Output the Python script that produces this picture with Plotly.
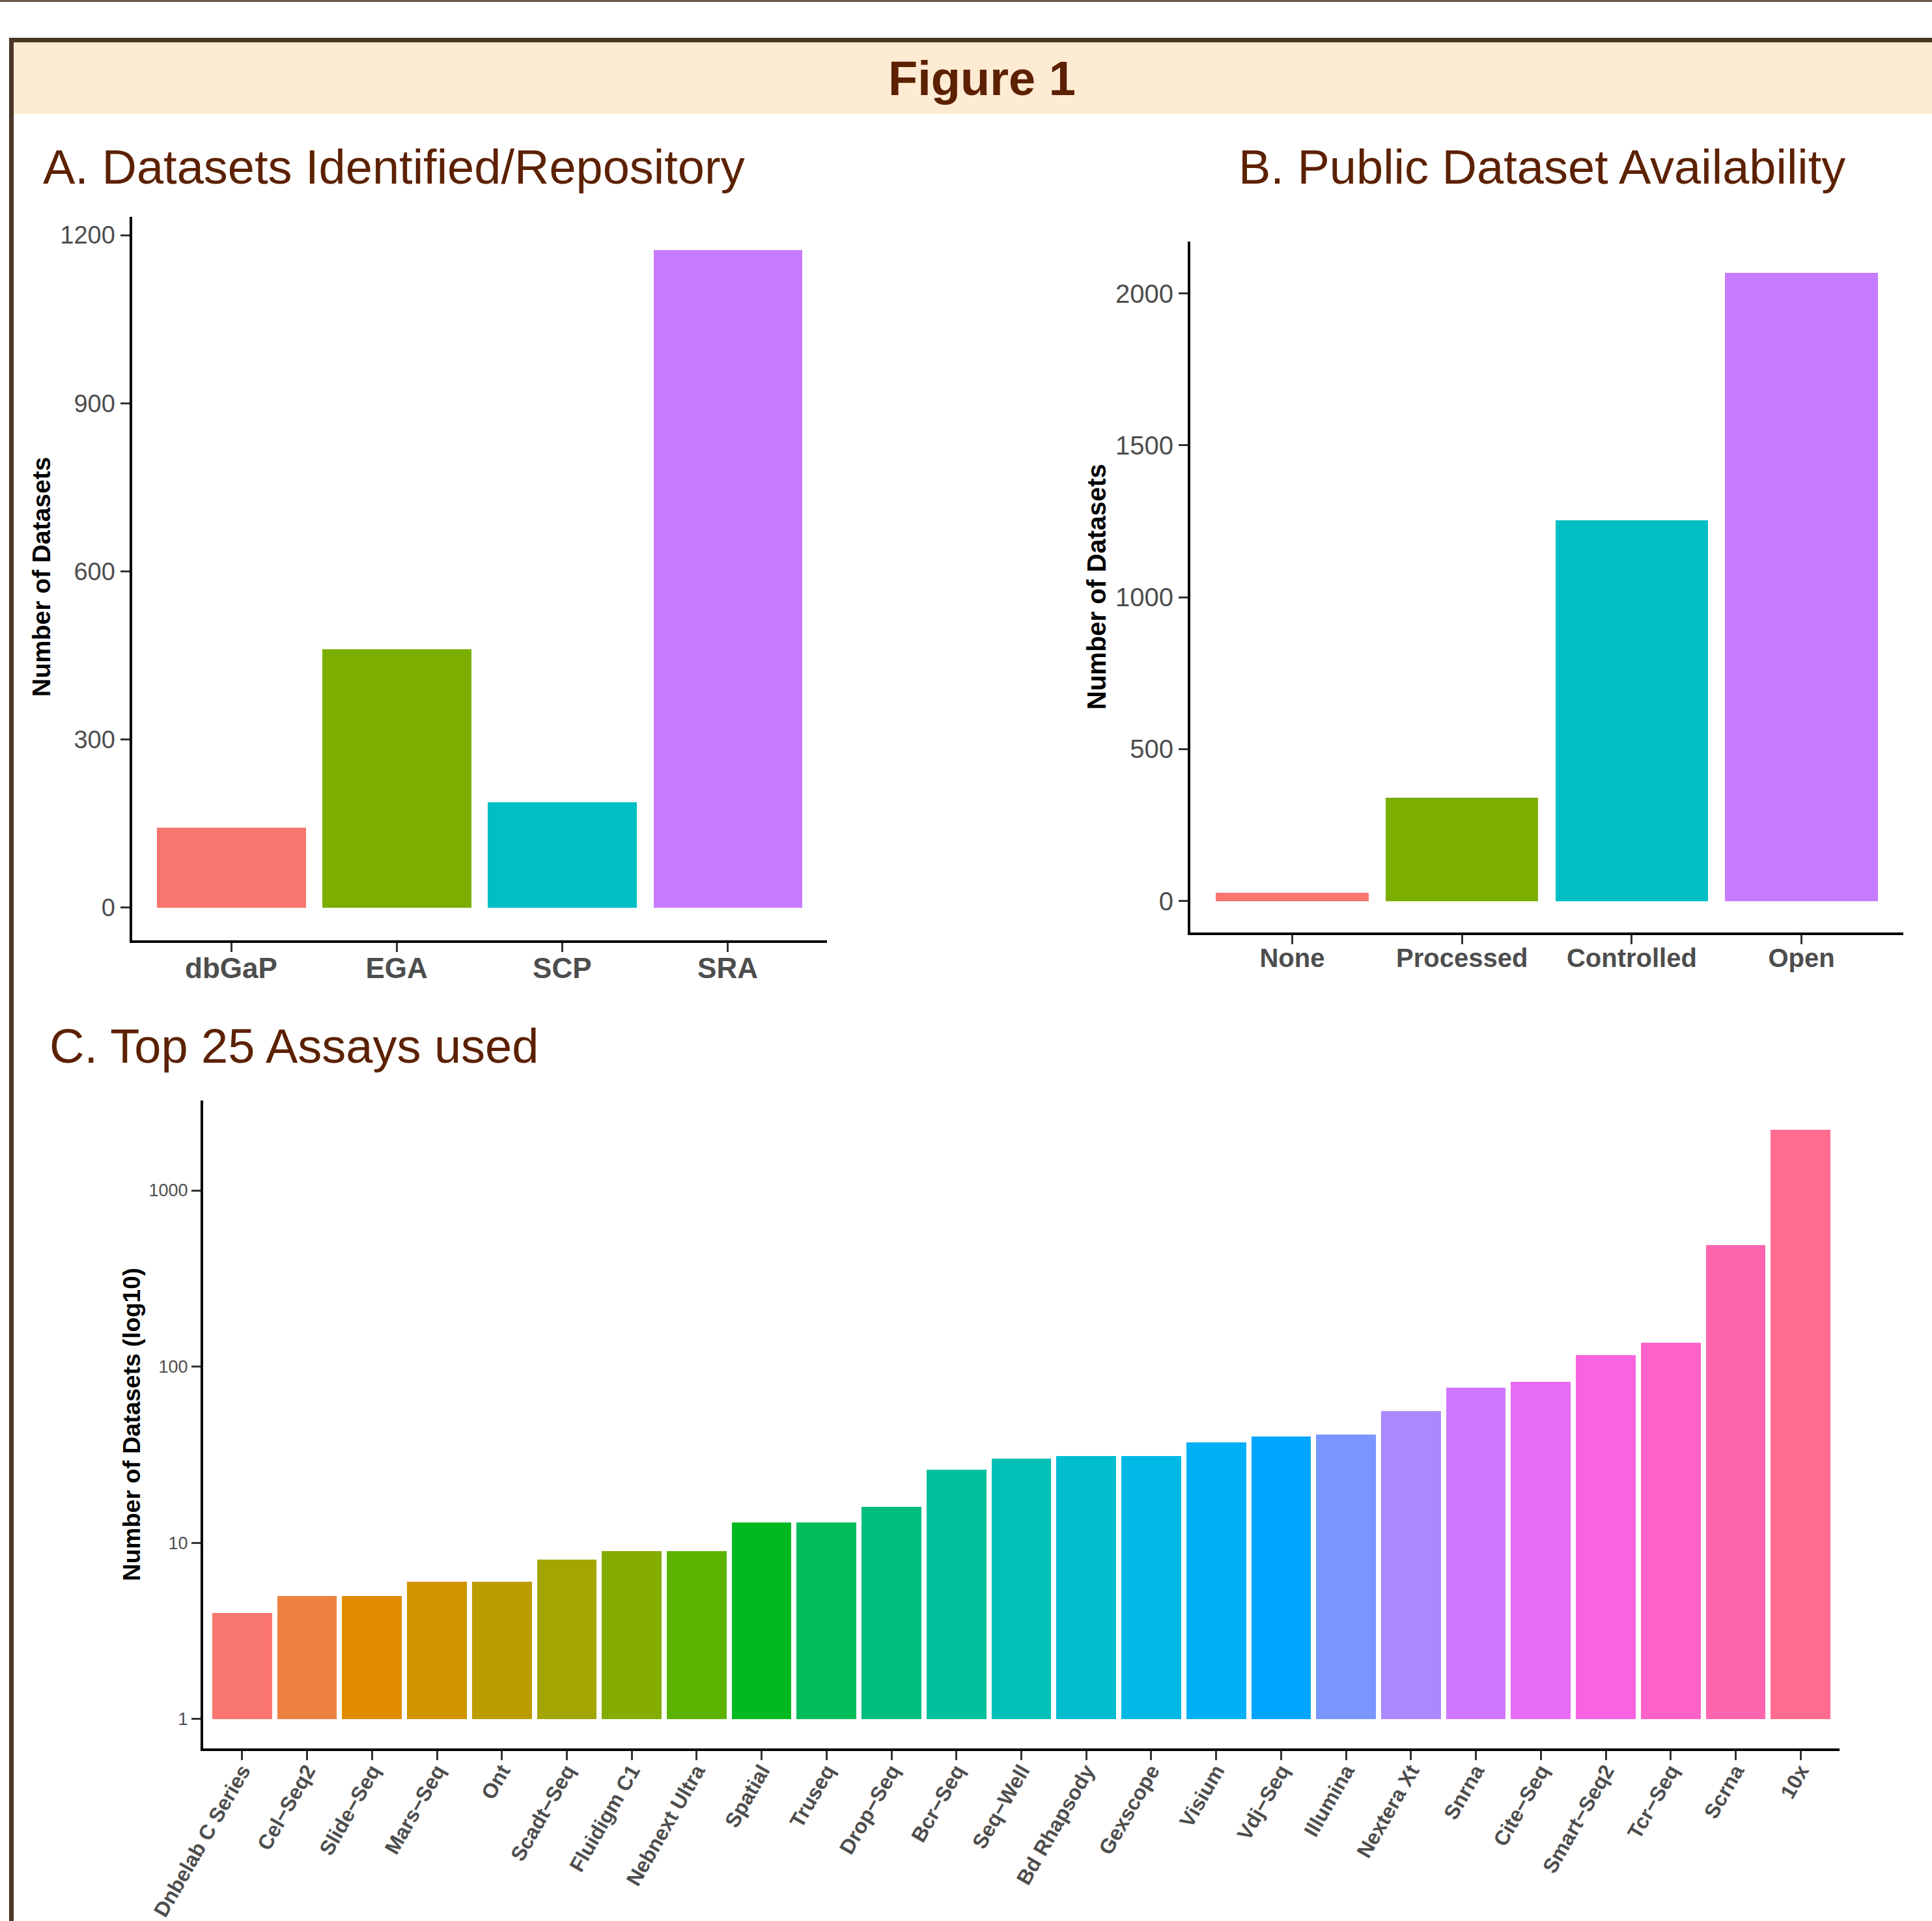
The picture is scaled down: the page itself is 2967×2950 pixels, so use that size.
import math
import plotly.graph_objects as go

# ---------------- data ----------------
repo_names = ["dbGaP", "EGA", "SCP", "SRA"]
repo_counts = [142, 461, 188, 1174]

avail_names = ["None", "Processed", "Controlled", "Open"]
avail_counts = [27, 341, 1253, 2067]

assay_names = ["Dnbelab C Series", "Cel\u2212Seq2", "Slide\u2212Seq", "Mars\u2212Seq", "Ont",
               "Scadt\u2212Seq", "Fluidigm C1", "Nebnext Ultra", "Spatial", "Truseq",
               "Drop\u2212Seq", "Bcr\u2212Seq", "Seq\u2212Well", "Bd Rhapsody", "Gexscope",
               "Visium", "Vdj\u2212Seq", "Illumina", "Nextera Xt", "Snrna",
               "Cite\u2212Seq", "Smart\u2212Seq2", "Tcr\u2212Seq", "Scrna", "10x"]
assay_counts = [4, 5, 5, 6, 6, 8, 9, 9, 13, 13, 16, 26, 30, 31, 31,
                37, 40, 41, 56, 76, 82, 116, 136, 489, 2200]

lin_ticks_a = [0, 300, 600, 900, 1200]
lin_ticks_b = [0, 500, 1000, 1500, 2000]
log_ticks_c = [1, 10, 100, 1000]
log_tick_text_c = ["1", "10", "100", "1000"]


# ---------------- ggplot2-like hue palette ----------------
def hcl_hex(h, c=100.0, l=65.0):
    hr = math.radians(h)
    U = c * math.cos(hr)
    V = c * math.sin(hr)
    Xn, Yn, Zn = 95.047, 100.0, 108.883
    Y = Yn * ((l + 16) / 116) ** 3 if l > 8 else Yn * l / 903.3
    un = 4 * Xn / (Xn + 15 * Yn + 3 * Zn)
    vn = 9 * Yn / (Xn + 15 * Yn + 3 * Zn)
    u = U / (13 * l) + un
    v = V / (13 * l) + vn
    X = 9.0 * Y * u / (4 * v)
    Z = -X / 3 - 5 * Y + 3 * Y / v
    X, Y, Z = X / 100, Y / 100, Z / 100
    R = 3.240479 * X - 1.537150 * Y - 0.498535 * Z
    G = -0.969256 * X + 1.875992 * Y + 0.041556 * Z
    B = 0.055648 * X - 0.204043 * Y + 1.057311 * Z

    def gam(t):
        t = 12.92 * t if t <= 0.0031308 else 1.055 * t ** (1 / 2.4) - 0.055
        return int(round(min(max(t, 0.0), 1.0) * 255))
    return "#%02X%02X%02X" % (gam(R), gam(G), gam(B))


def hue_pal(n):
    return [hcl_hex(15 + i * 360.0 / n) for i in range(n)]


# ---------------- geometry helpers ----------------
W, H = 2967, 2950


def px_x(p):
    return p / W


def px_y(p):
    return 1 - p / H


FONT = "Liberation Sans, Arial, sans-serif"
TITLE_COL = "#5C2100"
TICK_COL = "#4D4D4D"

fig = go.Figure()

fig.add_trace(go.Bar(x=repo_names, y=repo_counts, marker=dict(color=hue_pal(4), line=dict(width=0)),
                     width=0.9, xaxis="x", yaxis="y", showlegend=False))
fig.add_trace(go.Bar(x=avail_names, y=avail_counts, marker=dict(color=hue_pal(4), line=dict(width=0)),
                     width=0.9, xaxis="x2", yaxis="y2", showlegend=False))
fig.add_trace(go.Bar(x=assay_names, y=[v - 1 for v in assay_counts], base=1,
                     customdata=assay_counts, hovertemplate="%{x}: %{customdata}<extra></extra>",
                     marker=dict(color=hue_pal(len(assay_names)), line=dict(width=0)),
                     width=0.92, xaxis="x3", yaxis="y3", showlegend=False))

axis_common = dict(showline=True, linecolor="black", linewidth=4, ticks="outside",
                   ticklen=14, tickwidth=3, tickcolor="#333333", showgrid=False,
                   zeroline=False, fixedrange=True, automargin=False)

fig.update_layout(
    width=W, height=H,
    autosize=False,
    margin=dict(l=0, r=0, t=0, b=0, pad=0, autoexpand=False),
    paper_bgcolor="white", plot_bgcolor="white",
    bargap=0,
    xaxis=dict(axis_common, domain=[px_x(202.5), px_x(1270)], anchor="y", type="category",
               range=[-0.6, 3.6], ticklabelstandoff=-13,
               tickfont=dict(family=FONT, size=44, color=TICK_COL, weight="bold")),
    yaxis=dict(axis_common, domain=[px_y(1444), px_y(333)], anchor="x",
               range=[-58.7, 1232.7], tickvals=lin_ticks_a,
               tickfont=dict(family=FONT, size=38, color=TICK_COL)),
    xaxis2=dict(axis_common, domain=[px_x(1828), px_x(2923)], anchor="y2", type="category",
                range=[-0.6, 3.6], ticklabelstandoff=-13,
                tickfont=dict(family=FONT, size=40, color=TICK_COL, weight="bold")),
    yaxis2=dict(axis_common, domain=[px_y(1432), px_y(371)], anchor="x2",
                range=[-103.4, 2170.4], tickvals=lin_ticks_b,
                tickfont=dict(family=FONT, size=40, color=TICK_COL)),
    xaxis3=dict(axis_common, domain=[px_x(312), px_x(2825)], anchor="y3", type="category",
                range=[-0.6, 24.6], tickangle=-60, ticklabelstandoff=-15,
                tickfont=dict(family=FONT, size=32, color=TICK_COL, weight="bold")),
    yaxis3=dict(axis_common, domain=[px_y(2685), px_y(1690)], anchor="x3", type="log",
                range=[-0.167, 3.51], tickvals=log_ticks_c, ticktext=log_tick_text_c,
                tickfont=dict(family=FONT, size=27, color=TICK_COL)),
)

shapes = [
    dict(type="rect", xref="paper", yref="paper", x0=0, x1=1, y0=px_y(3), y1=px_y(0),
         fillcolor="#6B5A4A", line=dict(width=0), layer="below"),
    dict(type="rect", xref="paper", yref="paper", x0=px_x(21), x1=1, y0=px_y(175), y1=px_y(65),
         fillcolor="#FEEBD3", line=dict(width=0), layer="below"),
    dict(type="rect", xref="paper", yref="paper", x0=px_x(14), x1=1, y0=px_y(65), y1=px_y(58),
         fillcolor="#4A3725", line=dict(width=0), layer="below"),
    dict(type="rect", xref="paper", yref="paper", x0=px_x(14), x1=px_x(21), y0=0, y1=px_y(58),
         fillcolor="#4A3725", line=dict(width=0), layer="below"),
]

annotations = [
    dict(text="Figure 1", x=px_x(1508), y=px_y(120), xanchor="center", yanchor="middle",
         font=dict(family=FONT, size=74, color=TITLE_COL, weight="bold")),
    dict(text="A. Datasets Identified/Repository", x=px_x(64), y=px_y(257), xanchor="left",
         yanchor="middle", font=dict(family=FONT, size=74, color=TITLE_COL)),
    dict(text="B. Public Dataset Availability", x=px_x(1900), y=px_y(257), xanchor="left",
         yanchor="middle", font=dict(family=FONT, size=74, color=TITLE_COL)),
    dict(text="C. Top 25 Assays used", x=px_x(74), y=px_y(1607), xanchor="left",
         yanchor="middle", font=dict(family=FONT, size=74, color=TITLE_COL)),
    dict(text="Number of Datasets", x=px_x(64), y=px_y(886), textangle=-90,
         xanchor="center", yanchor="middle",
         font=dict(family=FONT, size=39, color="black", weight="bold")),
    dict(text="Number of Datasets", x=px_x(1684), y=px_y(901), textangle=-90,
         xanchor="center", yanchor="middle",
         font=dict(family=FONT, size=40, color="black", weight="bold")),
    dict(text="Number of Datasets (log10)", x=px_x(202), y=px_y(2188), textangle=-90,
         xanchor="center", yanchor="middle",
         font=dict(family=FONT, size=37, color="black", weight="bold")),
]
for a in annotations:
    a.update(xref="paper", yref="paper", showarrow=False)

fig.update_layout(shapes=shapes, annotations=annotations)

fig.write_html("out.html",
               config={"displayModeBar": False},
               post_script="document.body.style.margin='0';document.body.style.overflow='hidden';")
